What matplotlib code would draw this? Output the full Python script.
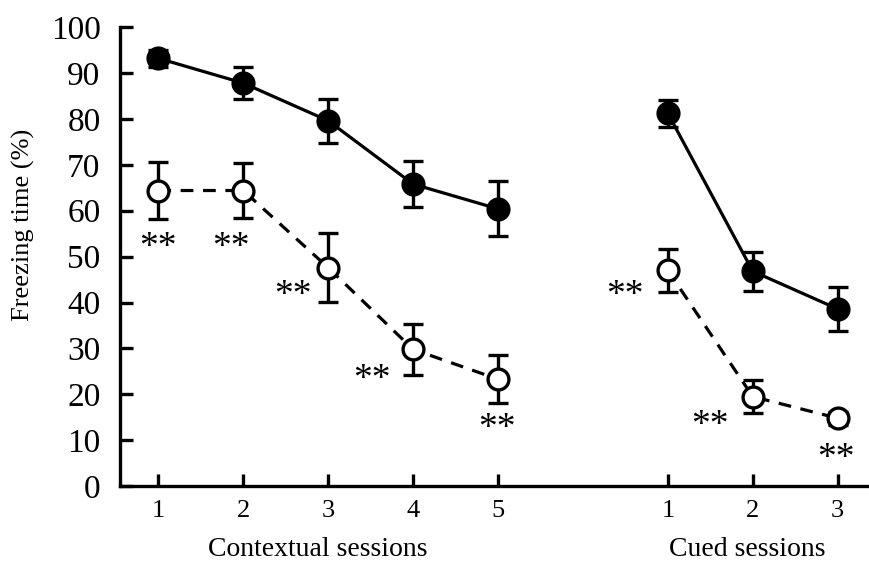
import numpy as np
import matplotlib
matplotlib.use("Agg")
import matplotlib.pyplot as plt

plt.rcParams['font.family'] = ['Liberation Serif', 'DejaVu Serif']

# donnees
ctx_x = [1, 2, 3, 4, 5]
cued_x = [7, 8, 9]
ctx_labels = ["1", "2", "3", "4", "5"]
cued_labels = ["1", "2", "3"]

ctx_ctrl = [93.2, 87.8, 79.6, 65.8, 60.4]
ctx_ctrl_err = [1.8, 3.5, 4.8, 5.0, 6.0]
ctx_trt = [64.4, 64.4, 47.6, 29.8, 23.3]
ctx_trt_err = [6.2, 6.0, 7.5, 5.6, 5.2]

cued_ctrl = [81.2, 46.8, 38.6]
cued_ctrl_err = [3.0, 4.2, 4.8]
cued_trt = [47.0, 19.5, 14.8]
cued_trt_err = [4.6, 3.6, 1.4]

# positions des etoiles (**)
star_x = [1.0, 1.85, 2.59, 3.52, 4.99, 6.49, 7.49, 8.98]
star_y = [53.6, 53.6, 43.1, 24.8, 14.2, 43.1, 14.8, 7.6]

fig = plt.figure(figsize=(8.7, 5.64), dpi=100)
ax = fig.add_axes([0.138, 0.138, 0.862, 0.814])

style = dict(color='black', marker='o', ms=15, mec='black', mew=2.4,
             ecolor='black', elinewidth=2.4, capsize=7, capthick=2.4)

for seg_x, c, ce, t, te in [(ctx_x, ctx_ctrl, ctx_ctrl_err, ctx_trt, ctx_trt_err),
                             (cued_x, cued_ctrl, cued_ctrl_err, cued_trt, cued_trt_err)]:
    ax.errorbar(seg_x, t, yerr=te, lw=2.3, ls=(0, (4, 3)), mfc='white', zorder=3, **style)
    ax.errorbar(seg_x, c, yerr=ce, lw=2.3, ls='-', mfc='black', zorder=4, **style)

for sx, sy in zip(star_x, star_y):
    ax.text(sx, sy - 1.6, "**", fontsize=27, ha='center', va='center')

ax.set_xlim(0.55, 9.38)
ax.set_ylim(0, 100)
ax.set_yticks(np.arange(0, 101, 10))
ax.set_xticks(ctx_x + cued_x)
ax.set_xticklabels(ctx_labels + cued_labels)
ax.tick_params(axis='y', direction='in', length=9, width=2.4, labelsize=24, pad=14)
ax.tick_params(axis='x', direction='in', length=9, width=2.4, labelsize=19, pad=10)
for s in ['top', 'right']:
    ax.spines[s].set_visible(False)
for s in ['left', 'bottom']:
    ax.spines[s].set_linewidth(2.4)

ax.set_ylabel("Freezing time (%)", fontsize=19)
ax.yaxis.set_label_coords(-0.113, 0.57)
fig.text(318 / 870, 1 - 549 / 564, "Contextual sessions", fontsize=20, ha='center', va='center')
fig.text(747 / 870, 1 - 549 / 564, "Cued sessions", fontsize=20, ha='center', va='center')

fig.savefig("out.png", dpi=100)
